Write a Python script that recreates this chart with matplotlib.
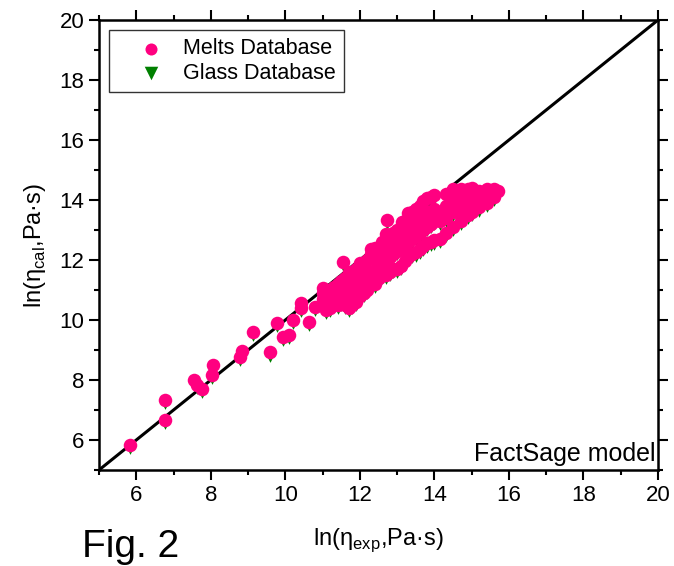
import matplotlib.pyplot as plt
from matplotlib.ticker import MultipleLocator
from matplotlib.transforms import ScaledTranslation

plt.rcParams['font.family'] = ['Liberation Sans', 'DejaVu Sans']
plt.rcParams['mathtext.fontset'] = 'custom'
plt.rcParams['mathtext.rm'] = 'Liberation Sans'

# scattered points below the main cluster
outlier_x = [5.83, 6.77, 6.77, 7.55, 7.64, 7.77, 8.05, 8.03, 8.77, 8.83, 9.14, 9.59,
             9.78, 9.95, 10.1, 10.21, 10.42, 10.42, 10.63, 10.8, 11.02, 11.1, 11.55,
             12.72, 13.12]
outlier_y = [5.83, 7.33, 6.67, 8.0, 7.83, 7.69, 8.5, 8.17, 8.78, 8.98, 9.61, 8.92,
             9.89, 9.44, 9.5, 10.0, 10.56, 10.4, 9.94, 10.44, 11.06, 10.33, 11.94,
             13.33, 13.28]

# main cluster, read column by column
cluster = [
    (11.0, [10.7, 10.9]),
    (11.1, [10.5, 10.8, 11.0]),
    (11.2, [10.4, 10.7, 11.0]),
    (11.3, [10.6, 10.9, 11.1]),
    (11.4, [10.5, 10.8, 11.2]),
    (11.5, [10.6, 10.9, 11.3]),
    (11.6, [10.5, 10.8, 11.1, 11.4]),
    (11.7, [10.4, 10.7, 11.0, 11.3, 11.6]),
    (11.8, [10.5, 10.8, 11.1, 11.5]),
    (11.9, [10.6, 10.9, 11.2, 11.7]),
    (12.0, [10.8, 11.1, 11.4, 11.9]),
    (12.1, [10.9, 11.3, 11.8]),
    (12.2, [11.0, 11.5, 12.0]),
    (12.3, [11.2, 11.6, 12.2, 12.35]),
    (12.4, [11.2, 11.6, 12.0, 12.4]),
    (12.5, [11.4, 11.8, 12.3]),
    (12.6, [11.5, 11.9, 12.2, 12.6]),
    (12.7, [11.5, 12.0, 12.4, 12.85]),
    (12.8, [11.6, 12.1, 12.6]),
    (12.9, [11.7, 12.2, 12.5, 12.9]),
    (13.0, [11.7, 12.3, 12.7, 13.0]),
    (13.1, [11.8, 12.5, 12.9]),
    (13.2, [11.95, 12.4, 12.8, 13.3]),
    (13.3, [12.1, 12.6, 13.0, 13.55]),
    (13.4, [12.2, 12.7, 13.1, 13.6]),
    (13.5, [12.25, 12.8, 13.3, 13.7]),
    (13.6, [12.35, 12.9, 13.4, 13.8]),
    (13.7, [12.45, 13.0, 13.5, 13.95]),
    (13.8, [12.55, 13.1, 13.6, 14.05]),
    (13.9, [12.6, 13.2, 13.5, 14.1]),
    (14.0, [12.65, 13.3, 13.7, 14.15]),
    (14.15, [12.7, 13.3, 13.6]),
    (14.3, [12.9, 13.4, 13.8, 14.2]),
    (14.5, [13.1, 13.6, 14.0, 14.35]),
    (14.7, [13.3, 13.7, 14.1, 14.35]),
    (14.9, [13.5, 13.9, 14.35]),
    (15.0, [13.6, 14.0, 14.4]),
    (15.2, [13.75, 14.1, 14.3]),
    (15.4, [13.9, 14.2, 14.35]),
    (15.6, [14.1, 14.35]),
    (15.7, [14.3]),
]

melts_x = list(outlier_x)
melts_y = list(outlier_y)
for cx, ys in cluster:
    melts_x += [cx] * len(ys)
    melts_y += ys

# glass database points coincide with the melts points
glass_x = melts_x
glass_y = melts_y

fig = plt.figure(figsize=(6.74, 5.66), dpi=100)
ax = fig.add_axes([0.1469, 0.1696, 0.8294, 0.7951])

ax.plot([5, 20], [5, 20], color='black', lw=2.2, zorder=1)
# triangles drawn a few pixels lower so their tips peek out under the circles
shift = ScaledTranslation(0, -3 / 72, fig.dpi_scale_trans)
tri = ax.scatter(glass_x, glass_y, marker='v', s=60, color='#008000', lw=0,
                 zorder=2, label='Glass Database')
tri.set_offset_transform(ax.transData + shift)
ax.scatter(melts_x, melts_y, marker='o', s=95, color='#FF0080', lw=0,
           zorder=3, label='Melts Database')

ax.set_xlim(5, 20)
ax.set_ylim(5, 20)
ax.xaxis.set_major_locator(MultipleLocator(2))
ax.yaxis.set_major_locator(MultipleLocator(2))
ax.xaxis.set_minor_locator(MultipleLocator(1))
ax.yaxis.set_minor_locator(MultipleLocator(1))
ax.tick_params(which='both', direction='out', top=True, right=True,
               labeltop=False, labelright=False, width=1.5, labelsize=16)
ax.tick_params(which='major', length=7)
ax.tick_params(which='minor', length=3.5)
ax.set_xticks([t for t in ax.get_xticks() if 6 <= t <= 20])
ax.set_yticks([t for t in ax.get_yticks() if 6 <= t <= 20])
for sp in ax.spines.values():
    sp.set_linewidth(1.8)

ax.set_xlabel(r'ln(η$_{\mathregular{exp}}$,Pa·s)', fontsize=17, labelpad=15)
ax.set_ylabel(r'ln(η$_{\mathregular{cal}}$,Pa·s)', fontsize=17, labelpad=8)

handles, labels = ax.get_legend_handles_labels()
leg = ax.legend(handles[::-1], labels[::-1], loc='upper left', fontsize=15.5,
                frameon=True, fancybox=False, edgecolor='black', borderpad=0.4,
                handletextpad=-0.05, labelspacing=0.15, borderaxespad=0.45,
                handlelength=3.1)
leg.get_frame().set_linewidth(1.0)
leg.legend_handles[0].set_sizes([75])
leg.legend_handles[1].set_sizes([95])

ax.text(0.995, 0.01, 'FactSage model', transform=ax.transAxes, ha='right',
        va='bottom', fontsize=18)
fig.text(0.122, 0.016, 'Fig. 2', fontsize=28)

fig.savefig('out.png', dpi=100)
